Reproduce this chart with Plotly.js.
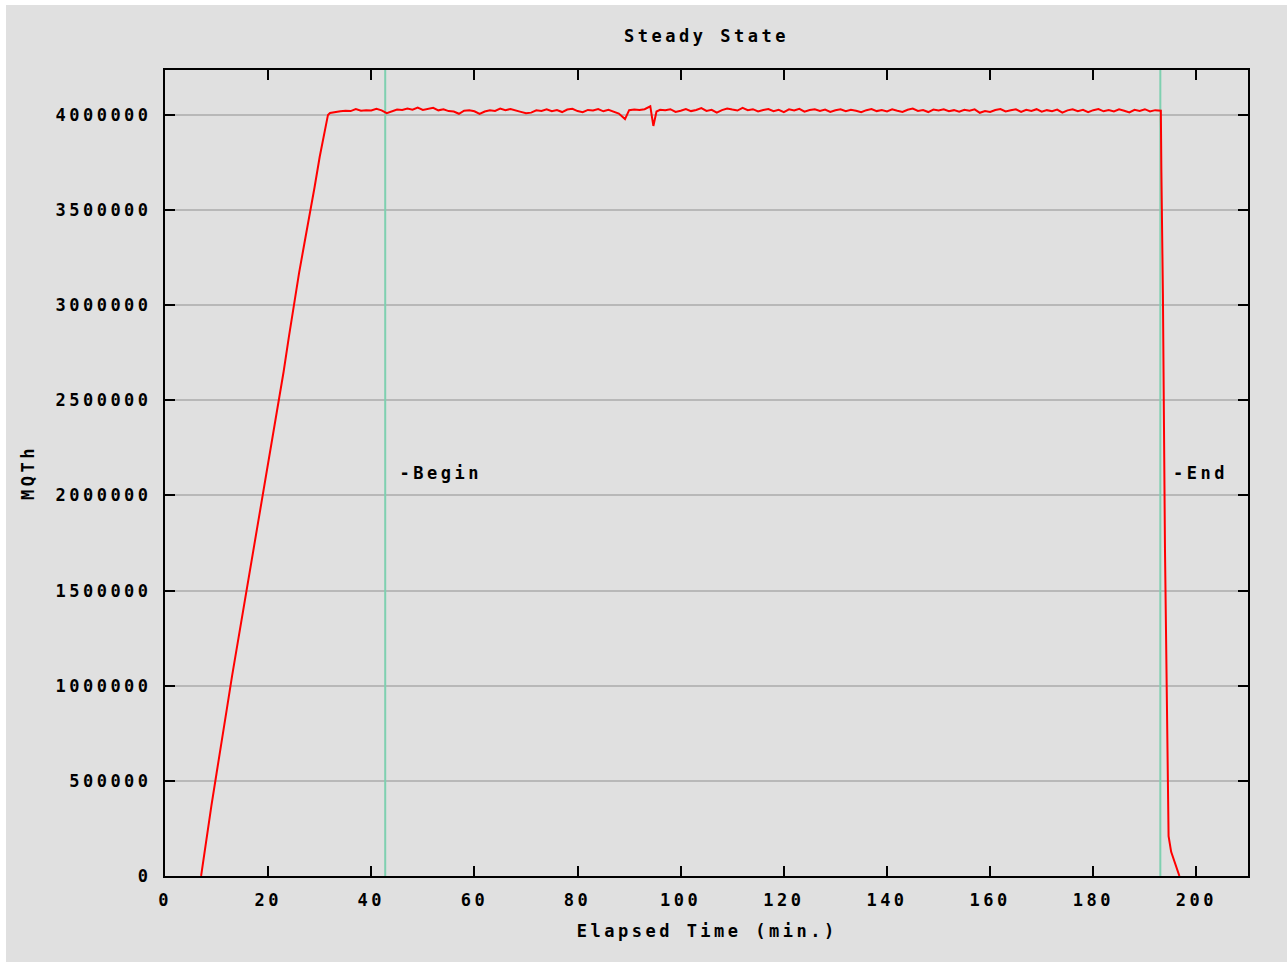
<!DOCTYPE html>
<html><head><meta charset="utf-8">
<script src="https://cdn.plot.ly/plotly-3.0.1.min.js"></script>
<style>
html,body{margin:0;padding:0;background:#ffffff;}
#chart{position:absolute;left:6px;top:5px;width:1281px;height:957px;}
#chart text{letter-spacing:3.5px;}
</style></head><body><div id="chart"></div>
<script>
// Elapsed time (min.)
var elapsedMin = [
  7,8,9,10,11,12,13,14,15,16,17,18,19,20,21,22,23,24,25,26,27,28,29,30,31,31.6,
  32,33,34,35,36,37,38,39,40,41,42,43,44,45,46,47,48,49,50,51,52,53,54,55,56,57,58,59,60,
  61,62,63,64,65,66,67,68,69,70,71,72,73,74,75,76,77,78,79,80,81,82,83,84,85,86,87,88,89.2,
  90,91,92,93,94.1,94.7,95.3,96,97,98,99,100,101,102,103,104,105,106,107,108,109,110,
  111,112,113,114,115,116,117,118,119,120,121,122,123,124,125,126,127,128,129,130,
  131,132,133,134,135,136,137,138,139,140,141,142,143,144,145,146,147,148,149,150,
  151,152,153,154,155,156,157,158,159,160,161,162,163,164,165,166,167,168,169,170,
  171,172,173,174,175,176,177,178,179,180,181,182,183,184,185,186,187,188,189,190,
  191,192,193.1,193.2,193.5,193.9,194.4,194.6,195.1,195.7,196.7
];
// MQTh values
var mqth = [
  0,190000,370000,540000,700000,880000,1050000,1210000,1370000,1520000,1680000,1840000,1990000,2150000,2310000,2470000,2650000,2830000,3010000,3170000,3320000,3460000,3620000,3780000,3920000,4000000,
  4010000,4016000,4019000,4022000,4020000,4031000,4022000,4025000,4023000,4032000,4024000,4009000,4020000,4028000,4026000,4033000,4027000,4038000,4026000,4030000,4037000,4024000,4029000,4020000,4018000,4006000,4022000,4025000,4019000,
  4005000,4018000,4024000,4021000,4033000,4025000,4031000,4022000,4016000,4009000,4012000,4024000,4021000,4030000,4019000,4026000,4015000,4028000,4032000,4020000,4014000,4026000,4023000,4031000,4019000,4027000,4018000,4007000,3978000,
  4025000,4028000,4026000,4030000,4045000,3942000,4018000,4027000,4024000,4030000,4016000,4022000,4031000,4020000,4026000,4036000,4021000,4027000,4012000,4025000,4034000,4028000,
  4023000,4037000,4025000,4030000,4018000,4026000,4031000,4020000,4027000,4015000,4029000,4023000,4032000,4017000,4026000,4030000,4021000,4028000,4016000,4024000,
  4029000,4019000,4027000,4022000,4014000,4025000,4031000,4020000,4026000,4018000,4029000,4022000,4016000,4027000,4033000,4021000,4026000,4015000,4028000,4023000,
  4030000,4019000,4025000,4017000,4027000,4022000,4029000,4011000,4020000,4015000,4026000,4031000,4018000,4024000,4029000,4016000,4027000,4021000,4030000,4017000,
  4025000,4019000,4028000,4012000,4024000,4030000,4020000,4027000,4014000,4025000,4031000,4019000,4026000,4018000,4029000,4022000,4013000,4027000,4021000,4030000,
  4018000,4025000,4022000,3710000,3060000,1720000,480000,210000,127000,75000,0
];
var beginX = 42.7;
var endX = 193.0;
var markerLabels = ['-Begin', '-End'];
var labelY = 2120000;
var xTicks = [0,20,40,60,80,100,120,140,160,180,200];
var yTicks = [0,500000,1000000,1500000,2000000,2500000,3000000,3500000,4000000];
var xRange = [0,210];
var yRange = [0,4236000];

var green = '#7fd0b0';
var traces = [
  {x:[beginX,beginX], y:yRange, mode:'lines', line:{color:green, width:2}, hoverinfo:'skip'},
  {x:[endX,endX], y:yRange, mode:'lines', line:{color:green, width:2}, hoverinfo:'skip'},
  {x:elapsedMin, y:mqth, mode:'lines', line:{color:'#ff0000', width:2}}
];

var font = {family:'DejaVu Sans Mono', size:17, color:'#000000', weight:'bold'};
var layout = {
  width:1281, height:957,
  paper_bgcolor:'#e0e0e0', plot_bgcolor:'#e0e0e0',
  margin:{l:159, r:39, t:65, b:86},
  font:font,
  showlegend:false,
  title:{text:'Steady State', x:0.5, xref:'paper', xanchor:'center', y:1-31/957, yref:'container', yanchor:'middle', font:font},
  xaxis:{range:xRange, tickvals:xTicks, ticks:'inside', ticklen:10, tickwidth:2, tickcolor:'#000',
         showline:true, linecolor:'#000', linewidth:2, mirror:'ticks', showgrid:false, zeroline:false,
         ticklabelstandoff:8, tickfont:font},
  yaxis:{range:yRange, tickvals:yTicks, tickformat:'d', ticks:'inside', ticklen:10, tickwidth:2, tickcolor:'#000',
         showline:true, linecolor:'#000', linewidth:2, mirror:'ticks', showgrid:true, gridcolor:'#b8b8b8', gridwidth:2,
         zeroline:false, ticklabelstandoff:8, tickfont:font},
  annotations:[
    {text:'Elapsed Time (min.)', xref:'paper', yref:'paper', x:0.5, y:0, xanchor:'center', yanchor:'middle', yshift:-55, showarrow:false, font:font},
    {text:'MQTh', xref:'paper', yref:'paper', x:0, y:0.5, xanchor:'center', yanchor:'middle', xshift:-137, textangle:-90, showarrow:false, font:font},
    {text:markerLabels[0], xref:'x', yref:'y', x:beginX, y:labelY, xanchor:'left', yanchor:'middle', xshift:23, showarrow:false, font:font},
    {text:markerLabels[1], xref:'x', yref:'y', x:endX, y:labelY, xanchor:'left', yanchor:'middle', xshift:18, showarrow:false, font:font}
  ]
};
Plotly.newPlot('chart', traces, layout, {staticPlot:true, displayModeBar:false});
</script></body></html>
